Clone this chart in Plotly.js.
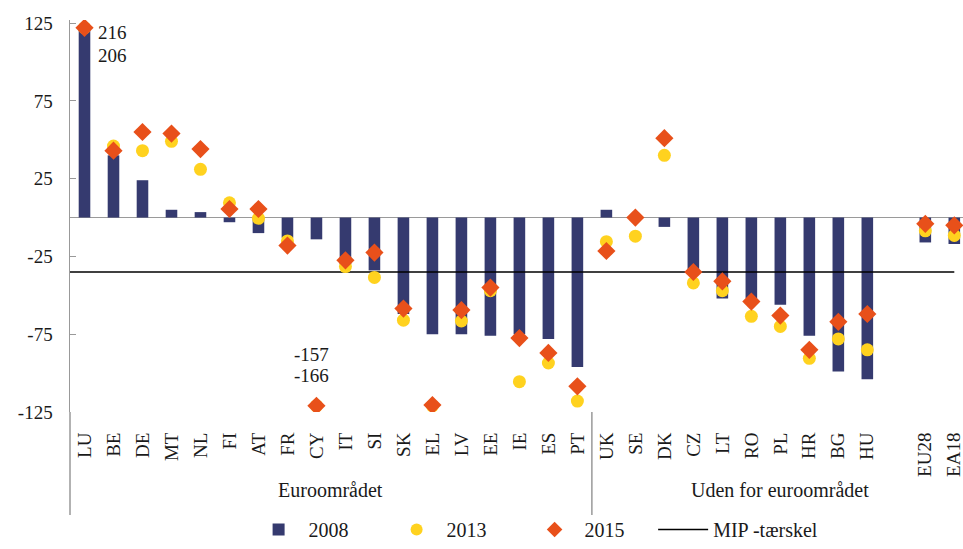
<!DOCTYPE html>
<html>
<head>
<meta charset="utf-8">
<script src="https://cdn.plot.ly/plotly-3.0.1.min.js"></script>
<style>html,body{margin:0;padding:0;background:#fff;}#chart{width:963px;height:549px;}</style>
</head>
<body>
<div id="chart"></div>
<script>
// Categories (euro area first, then outside, then aggregates)
var categories = ["LU","BE","DE","MT","NL","FI","AT","FR","CY","IT","SI","SK","EL","LV","EE","IE","ES","PT",
                  "UK","SE","DK","CZ","LT","RO","PL","HR","BG","HU","EU28","EA18"];
var euroCount = 18;      // LU..PT
var countryCount = 28;   // LU..HU, then a gap before aggregates

var v2008 = [123, 40, 24, 5, 3.5, -3, -10, -13, -14, -30, -34, -62, -75, -75, -76, -75, -78, -96,
             5, 0, -6, -34, -52, -52, -56, -76, -99, -104, -16, -17];
var v2013 = [122, 46, 43, 49, 31, 9.5, -0.5, -15, -121, -31.5, -38.5, -66, -121, -66.5, -47, -105.5, -93.5, -118,
             -15.5, -12, 40, -42, -47, -63.5, -70, -90.5, -78, -85, -8.5, -11.5];
var v2015 = [122, 43, 55, 54, 44, 5.5, 5.5, -18, -121, -27.5, -22.5, -58.5, -120.5, -59.5, -45, -77.5, -87, -108.5,
             -21.5, 0, 51, -35, -41, -54, -63, -85, -67, -62, -4, -5];
var mipThreshold = -35;
var offLU = ["216", "206"];
var offCY = ["-157", "-166"];
var groupLabels = ["Euroområdet", "Uden for euroområdet"];
var yTicks = [-125, -75, -25, 25, 75, 125];

var xIdx = categories.map(function(c, i){ return i < countryCount ? i : i + 1; });
var xRange = [-0.5, 30.3];
var FONT = "Liberation Serif, Times New Roman, serif";

var traces = [
  {type:"bar", name:"2008", x:xIdx, y:v2008, width:0.4, marker:{color:"#353a6f"}, legendrank:1},
  {type:"scatter", mode:"lines", name:"MIP -tærskel", x:[xRange[0], xIdx[xIdx.length-1]],
   y:[mipThreshold, mipThreshold], line:{color:"#000", width:1.5}, legend:"legend2"},
  {type:"scatter", mode:"markers", name:"2013", x:xIdx, y:v2013, marker:{symbol:"circle", size:13, color:"#ffd21f"}, legendrank:2},
  {type:"scatter", mode:"markers", name:"2015", x:xIdx, y:v2015, marker:{symbol:"diamond", size:14, color:"#e8501a"}, legendrank:3}
];

var legendFont = {family:FONT, size:20, color:"#1a1a1a"};
var sepX = (xIdx[euroCount-1] + xIdx[euroCount]) / 2;
var layout = {
  width:963, height:549,
  margin:{l:70, r:0, t:20, b:137},
  paper_bgcolor:"#fff", plot_bgcolor:"#fff",
  font:{family:FONT, size:19, color:"#1a1a1a"},
  showlegend:true,
  legend:{orientation:"h", x:0.2, xanchor:"left", yref:"container", y:-0.06, yanchor:"bottom",
          font:legendFont, traceorder:"normal", itemsizing:"constant",
          entrywidth:73, entrywidthmode:"pixels", itemwidth:50, bgcolor:"rgba(0,0,0,0)"},
  legend2:{orientation:"h", x:0.653, xanchor:"left", yref:"container", y:-0.06, yanchor:"bottom",
          font:legendFont, itemwidth:50, bgcolor:"rgba(0,0,0,0)"},
  xaxis:{type:"linear", range:xRange, tickvals:xIdx, ticktext:categories, tickangle:-90,
         showgrid:false, zeroline:false, showline:false, ticks:"outside", ticklen:12,
         tickcolor:"rgba(0,0,0,0)", ticklabeloverflow:"allow",
         tickfont:{family:FONT, size:19, color:"#1a1a1a"}, fixedrange:true},
  yaxis:{range:[-125, 127], tickvals:yTicks, ticktext:yTicks.map(String), ticks:"inside", ticklen:6,
         tickcolor:"#999", showline:true, linecolor:"#999", linewidth:1.5, showgrid:false,
         zeroline:true, zerolinecolor:"#9a9a9a", zerolinewidth:1.5, ticklabelstandoff:12,
         tickfont:{family:FONT, size:19, color:"#1a1a1a"}, fixedrange:true},
  shapes:[
    {type:"line", xref:"paper", yref:"paper", x0:0, x1:0, y0:0, y1:-0.263, line:{color:"#999", width:1.5}},
    {type:"line", xref:"x", yref:"paper", x0:sepX, x1:sepX, y0:0, y1:-0.263, line:{color:"#999", width:1.5}}
  ],
  annotations:[
    {x:xIdx[0], y:v2015[0], xref:"x", yref:"y", text:offLU[0], showarrow:false, xanchor:"left", xshift:11, yshift:-5, font:{size:19}},
    {x:xIdx[0], y:v2015[0], xref:"x", yref:"y", text:offLU[1], showarrow:false, xanchor:"left", xshift:11, yshift:-28, font:{size:19}},
    {x:xIdx[8], y:v2015[8], xref:"x", yref:"y", text:offCY[0], showarrow:false, xanchor:"center", xshift:-5, yshift:51, font:{size:19}},
    {x:xIdx[8], y:v2015[8], xref:"x", yref:"y", text:offCY[1], showarrow:false, xanchor:"center", xshift:-5, yshift:30, font:{size:19}},
    {x:(xIdx[0] + xIdx[euroCount-1]) / 2, y:-0.232, xref:"x", yref:"paper", text:groupLabels[0], showarrow:false, font:{size:20}},
    {x:(sepX + xRange[0] + xIdx[xIdx.length-1] + 1) / 2, y:-0.232, xref:"x", yref:"paper", text:groupLabels[1], showarrow:false, font:{size:20}}
  ]
};
Plotly.newPlot("chart", traces, layout, {displayModeBar:false, staticPlot:true});
</script>
</body>
</html>
